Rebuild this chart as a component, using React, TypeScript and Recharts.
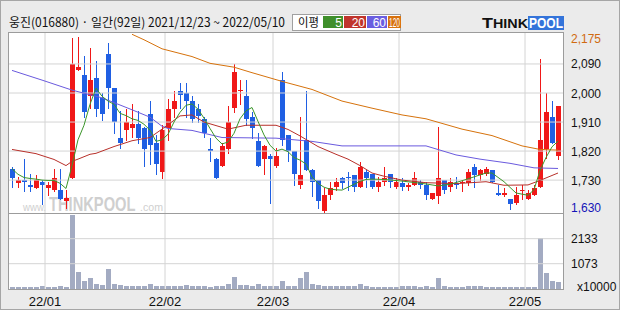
import React from "react";
import { Bar, ComposedChart, Line, ReferenceLine, XAxis, YAxis } from "recharts";

// daily candles, 2021/12/23 ~ 2022/05/10 (92 trading days)
const openP = [
  1765, 1720, 1730, 1715, 1705, 1725, 1705, 1700, 1700, 1665,
  1735, 2070, 2055, 1990, 2045, 1985, 2120, 2015, 1860, 1885,
  1890, 1905, 1890, 1935, 1845, 1755, 1890, 1950, 2005, 2000,
  1975, 1950, 1920, 1825, 1795, 1775, 1825, 1955, 2005, 1990,
  1925, 1850, 1795, 1805, 1775, 2040, 1870, 1820, 1715, 1855,
  1760, 1730, 1635, 1685, 1710, 1735, 1740, 1745, 1710, 1755,
  1750, 1710, 1725, 1750, 1710, 1720, 1710, 1715, 1725, 1715,
  1670, 1680, 1730, 1710, 1720, 1720, 1720, 1770, 1745, 1750,
  1760, 1690, 1685, 1670, 1660, 1695, 1670, 1685, 1710, 1825,
  1925, 1805,
];
const highP = [
  1770, 1740, 1795, 1750, 1745, 1730, 1725, 1765, 1765, 1700,
  2170, 2175, 2115, 2140, 2100, 2000, 2155, 2015, 1945, 1950,
  1965, 1945, 1895, 1975, 1870, 1900, 1980, 2005, 2030, 2030,
  1990, 1965, 1925, 1860, 1800, 1845, 1960, 2090, 2040, 2040,
  1940, 1875, 1840, 1810, 1830, 2065, 1870, 1820, 1925, 2005,
  1765, 1730, 1705, 1725, 1735, 1740, 1755, 1745, 1785, 1760,
  1750, 1740, 1770, 1750, 1735, 1735, 1720, 1755, 1730, 1725,
  1690, 1895, 1730, 1735, 1740, 1730, 1765, 1780, 1765, 1770,
  1760, 1715, 1705, 1670, 1710, 1715, 1700, 1715, 2105, 2000,
  1975, 1960,
];
const lowP = [
  1710, 1710, 1695, 1695, 1705, 1655, 1685, 1695, 1670, 1645,
  1735, 2070, 1925, 1955, 1930, 1915, 1955, 1875, 1830, 1855,
  1865, 1845, 1775, 1780, 1750, 1735, 1855, 1925, 1955, 1925,
  1910, 1910, 1865, 1790, 1735, 1775, 1815, 1940, 1965, 1900,
  1860, 1775, 1750, 1660, 1770, 1840, 1790, 1715, 1705, 1760,
  1680, 1645, 1630, 1670, 1700, 1705, 1700, 1695, 1710, 1710,
  1705, 1695, 1715, 1710, 1705, 1700, 1700, 1715, 1705, 1670,
  1670, 1660, 1690, 1695, 1705, 1695, 1715, 1710, 1730, 1745,
  1725, 1685, 1680, 1640, 1655, 1670, 1670, 1685, 1710, 1800,
  1845, 1795,
];
const closeP = [
  1735, 1730, 1725, 1710, 1730, 1715, 1715, 1735, 1670, 1675,
  2090, 2080, 1940, 2040, 1950, 1935, 2015, 1910, 1845, 1910,
  1905, 1860, 1825, 1840, 1780, 1885, 1950, 1975, 1995, 1975,
  1920, 1930, 1875, 1820, 1735, 1835, 1910, 2065, 2010, 1920,
  1890, 1775, 1835, 1795, 1805, 1855, 1820, 1750, 1745, 1760,
  1725, 1665, 1685, 1705, 1725, 1720, 1735, 1710, 1770, 1735,
  1710, 1725, 1735, 1725, 1725, 1710, 1715, 1735, 1715, 1685,
  1690, 1735, 1700, 1725, 1715, 1725, 1755, 1745, 1760, 1765,
  1725, 1685, 1690, 1655, 1685, 1700, 1690, 1705, 1855, 1940,
  1845, 1960,
];
// volume, x10000 shares
const volume = [
  85, 85, 85, 85, 85, 127, 85, 85, 110, 85,
  3140, 735, 340, 480, 225, 170, 848, 225, 170, 140,
  140, 140, 140, 225, 140, 140, 140, 140, 140, 170,
  140, 140, 140, 100, 140, 140, 200, 510, 170, 170,
  140, 215, 140, 140, 140, 340, 140, 140, 466, 735,
  226, 170, 113, 127, 127, 113, 127, 127, 212, 127,
  99, 99, 99, 99, 99, 127, 127, 127, 99, 127,
  99, 466, 127, 99, 99, 99, 127, 127, 127, 99,
  99, 99, 99, 99, 99, 99, 99, 99, 2175, 690,
  340, 310,
];

// moving averages: [day index, value]
const ma5: [number, number][] = [
  [0, 1765], [1, 1748], [2, 1738], [3, 1735], [4, 1733], [5, 1730], [6, 1729], [7, 1729], [8, 1720], [9, 1704],
  [10, 1775], [11, 1855], [12, 1900], [13, 1965], [14, 2015], [15, 1990], [16, 1975], [17, 1965], [18, 1937], [19, 1930],
  [20, 1920], [21, 1915], [22, 1903], [23, 1885], [24, 1850], [25, 1855], [26, 1872], [27, 1910], [28, 1940], [29, 1962],
  [30, 1966], [31, 1950], [32, 1922], [33, 1890], [34, 1860], [35, 1842], [36, 1848], [37, 1875], [38, 1920], [39, 1945],
  [40, 1955], [41, 1912], [42, 1870], [43, 1838], [44, 1820], [45, 1826], [46, 1818], [47, 1800], [48, 1792], [49, 1780],
  [50, 1740], [51, 1720], [52, 1708], [53, 1702], [54, 1700], [55, 1699], [56, 1708], [57, 1717], [58, 1726], [59, 1732],
  [60, 1733], [62, 1732], [65, 1727], [69, 1718], [71, 1712], [73, 1717], [75, 1728], [77, 1740], [79, 1752], [80, 1752],
  [82, 1725], [84, 1690], [86, 1683], [87, 1700], [88, 1760], [89, 1800], [90, 1833], [91, 1851],
];
const ma20: [number, number][] = [
  [0, 1825], [4, 1812], [7, 1794], [9, 1775], [10, 1788], [11, 1795], [13, 1810], [14, 1813], [17, 1834], [20, 1852],
  [23, 1862], [25, 1888], [28, 1929], [30, 1932], [32, 1910], [36, 1888], [39, 1900], [44, 1900], [46, 1887], [48, 1867],
  [51, 1834], [54, 1810], [56, 1795], [58, 1775], [60, 1752], [62, 1742], [65, 1730], [69, 1722], [74, 1719], [79, 1725],
  [82, 1714], [86, 1715], [88, 1729], [91, 1752],
];
const ma60: [number, number][] = [
  [0, 2070], [5, 2040], [10, 2009], [15, 1985], [20, 1948], [23, 1925], [25, 1897], [26, 1890], [30, 1884], [35, 1862],
  [44, 1860], [50, 1850], [55, 1836], [69, 1836], [74, 1808], [78, 1795], [83, 1782], [87, 1768], [91, 1766],
];
const ma120: [number, number][] = [
  [20, 2182], [22, 2165], [25, 2137], [30, 2113], [33, 2092], [37, 2080], [40, 2063], [45, 2036], [50, 2011], [55, 1975],
  [60, 1953], [65, 1932], [69, 1920], [75, 1888], [80, 1868], [85, 1836], [88, 1825], [91, 1823],
];

const priceTicks = [1630, 1730, 1820, 1910, 2000, 2090, 2175];
const priceGrid = [1730, 1820, 1910, 2000, 2090];
const volTicks = [0, 1073, 2133];
const monthStart = [6, 26, 44, 65, 86];
const monthLabels = ["22/01", "22/02", "22/03", "22/04", "22/05"];

const UP = "#f01818";
const DOWN = "#1f5fe3";
const GRID = "#d4d4d4";
const EDGE = "#9c9c9c";
const AXIS_FONT = "'Liberation Sans', Arial, sans-serif";
const KR_FONT = "'Noto Sans CJK KR', 'Noto Sans', sans-serif";
const MA_COLORS = { ma5: "#3b962a", ma20: "#b8302a", ma60: "#6a5ade", ma120: "#d6720c" };

const rows = openP.map((o, i) => ({
  i,
  open: o,
  high: highP[i],
  low: lowP[i],
  close: closeP[i],
  vol: volume[i],
  ma5: null as number | null,
  ma20: null as number | null,
  ma60: null as number | null,
  ma120: null as number | null,
}));
ma5.forEach(([i, v]) => (rows[i].ma5 = v));
ma20.forEach(([i, v]) => (rows[i].ma20 = v));
ma60.forEach(([i, v]) => (rows[i].ma60 = v));
ma120.forEach(([i, v]) => (rows[i].ma120 = v));

function Candle(props: any) {
  const { x, width, payload } = props;
  let { y, height } = props;
  if (height < 0) {
    y += height;
    height = -height;
  }
  const { open, close, high, low } = payload;
  const color = close >= open ? UP : DOWN;
  const k = high === low ? 0 : height / (high - low);
  const top = y + (high - Math.max(open, close)) * k;
  const bot = y + (high - Math.min(open, close)) * k;
  const rx = Math.round(x);
  const wx = rx + Math.floor(width / 2) + 0.5;
  return (
    <g>
      <line x1={wx} x2={wx} y1={Math.round(y)} y2={Math.round(y + height) + 1} stroke={color} strokeWidth={1} />
      <rect x={rx} y={Math.round(top)} width={width} height={Math.max(1, Math.round(bot) - Math.round(top))} fill={color} />
    </g>
  );
}

function VolBar(props: any) {
  const { x, y, width, height } = props;
  const top = Math.round(y);
  return <rect x={Math.round(x)} y={top} width={width} height={Math.round(y + height) - top} fill="#a3abc2" />;
}

function PriceTick(props: any) {
  const { x, y, payload } = props;
  const v = payload.value as number;
  const isMax = v === priceTicks[priceTicks.length - 1];
  const isMin = v === priceTicks[0];
  const fill = isMax ? "#d06a10" : isMin ? "#1414b8" : "#111";
  const dy = isMax ? 2.5 : isMin ? -4.5 : 0.5;
  return (
    <text x={x} y={y + dy} fill={fill} fontSize={12} fontFamily={AXIS_FONT} textAnchor="start" dominantBaseline="central">
      {v.toLocaleString("en-US")}
    </text>
  );
}

function VolTick(props: any) {
  const { x, y, payload } = props;
  const v = payload.value as number;
  return (
    <text x={v === 0 ? x + 6 : x} y={v === 0 ? y - 2 : y} fill="#111" fontSize={12} fontFamily={AXIS_FONT} textAnchor="start" dominantBaseline="central">
      {v === 0 ? "x10000" : String(v)}
    </text>
  );
}

const legendItems = [
  { label: "5", color: "#3f8f2b", x: 322, w: 20 },
  { label: "20", color: "#c0342c", x: 343, w: 22 },
  { label: "60", color: "#6a5ee0", x: 366, w: 20 },
  { label: "120", color: "#d8720e", x: 387, w: 13 },
];

export default function App() {
  return (
    <div style={{ position: "absolute", left: 0, top: 0, width: 620, height: 310, background: "#ebebeb", border: "1px solid #a6a6a6", boxSizing: "border-box", overflow: "hidden" }}>
      {/* plot frame */}
      <div style={{ position: "absolute", left: 7, top: 31, width: 556, height: 258, background: "#fff", border: `1px solid ${EDGE}`, boxSizing: "border-box" }} />
      <svg width={620} height={310} style={{ position: "absolute", left: 0, top: 0 }}>
        <g fill="#cfcfcf" fontFamily={AXIS_FONT}>
          <text x={22} y={210} fontSize={11} textLength={23} lengthAdjust="spacingAndGlyphs">www.</text>
          <text transform="translate(48 210) scale(0.7 1)" fontSize={21} fontWeight="bold">THINKPOOL</text>
          <text x={139} y={210} fontSize={11} textLength={23} lengthAdjust="spacingAndGlyphs">.com</text>
        </g>
      </svg>

      <div style={{ position: "absolute", left: 0, top: 0 }}>
        <ComposedChart width={620} height={222} data={rows} margin={{ top: 32, right: 0, bottom: 10, left: 8 }}>
          <XAxis dataKey="i" hide padding={{ left: 0, right: 2 }} />
          <YAxis orientation="right" width={58} domain={[1628, 2186]} allowDataOverflow ticks={priceTicks} interval={0} axisLine={false} tickLine={false} tick={<PriceTick />} />
          {priceGrid.map((v) => (
            <ReferenceLine key={v} y={v} stroke={GRID} />
          ))}
          {monthStart.map((m) => (
            <ReferenceLine key={m} x={m} position="start" stroke={GRID} />
          ))}
          <Bar dataKey={(d: any) => [d.low, d.high]} barSize={5} shape={(p: any) => <Candle {...p} />} isAnimationActive={false} />
          <Line dataKey="ma120" stroke={MA_COLORS.ma120} strokeWidth={1} dot={false} connectNulls isAnimationActive={false} />
          <Line dataKey="ma60" stroke={MA_COLORS.ma60} strokeWidth={1} dot={false} connectNulls isAnimationActive={false} />
          <Line dataKey="ma20" stroke={MA_COLORS.ma20} strokeWidth={1} dot={false} connectNulls isAnimationActive={false} />
          <Line dataKey="ma5" stroke={MA_COLORS.ma5} strokeWidth={1} dot={false} connectNulls isAnimationActive={false} />
        </ComposedChart>
      </div>

      <div style={{ position: "absolute", left: 0, top: 0 }}>
        <ComposedChart width={620} height={310} data={rows} margin={{ top: 212, right: 0, bottom: 22, left: 8 }}>
          <XAxis dataKey="i" hide padding={{ left: 0, right: 2 }} />
          <YAxis orientation="right" width={58} domain={[0, 3222]} allowDataOverflow ticks={volTicks} interval={0} axisLine={false} tickLine={false} tick={<VolTick />} />
          {volTicks.slice(1).map((v) => (
            <ReferenceLine key={v} y={v} stroke={GRID} />
          ))}
          {monthStart.map((m, k) => (
            <ReferenceLine
              key={m}
              x={m}
              position="start"
              stroke={GRID}
              label={{ value: monthLabels[k], position: "bottom", offset: 8, fill: "#111", fontSize: 13, fontFamily: AXIS_FONT }}
            />
          ))}
          <Bar dataKey="vol" barSize={5} shape={(p: any) => <VolBar {...p} />} isAnimationActive={false} />
        </ComposedChart>
      </div>

      {/* price / volume divider */}
      <div style={{ position: "absolute", left: 7, top: 212, width: 556, height: 1, background: EDGE }} />

      <svg width={620} height={40} style={{ position: "absolute", left: 0, top: 0 }}>
        <text x={8} y={26} fontSize={12.5} fontFamily={KR_FONT} fill="#111" textLength={276} lengthAdjust="spacingAndGlyphs">
          웅진(016880) · 일간(92일) 2021/12/23 ~ 2022/05/10
        </text>
        <rect x={291.5} y={13.5} width={108} height={16} fill="#fff" stroke="#a0a0a0" />
        <text x={297} y={25.5} fontSize={12} fontFamily={KR_FONT} fill="#111" textLength={21} lengthAdjust="spacingAndGlyphs">이평</text>
        {legendItems.map((it) => (
          <g key={it.label}>
            <rect x={it.x} y={15} width={it.w} height={12} fill={it.color} />
            <text
              x={it.x + it.w - 1}
              y={25.5}
              fontSize={12}
              fontFamily={AXIS_FONT}
              fill="#fff"
              textAnchor="end"
              textLength={it.label.length * 6 > it.w - 2 ? it.w - 2 : undefined}
              lengthAdjust="spacingAndGlyphs"
            >
              {it.label}
            </text>
          </g>
        ))}
        <text x={481} y={27} fontFamily={AXIS_FONT} fontWeight="bold" fill="#111" textLength={46} lengthAdjust="spacingAndGlyphs">
          <tspan fontSize={15}>T</tspan>
          <tspan fontSize={12}>HINK</tspan>
        </text>
        <rect x={527} y={15} width={36} height={14} fill="#3474da" />
        <text x={528} y={27} fontSize={14} fontFamily={AXIS_FONT} fontWeight="bold" fill="#fff" textLength={34} lengthAdjust="spacingAndGlyphs">
          POOL
        </text>
      </svg>
    </div>
  );
}
